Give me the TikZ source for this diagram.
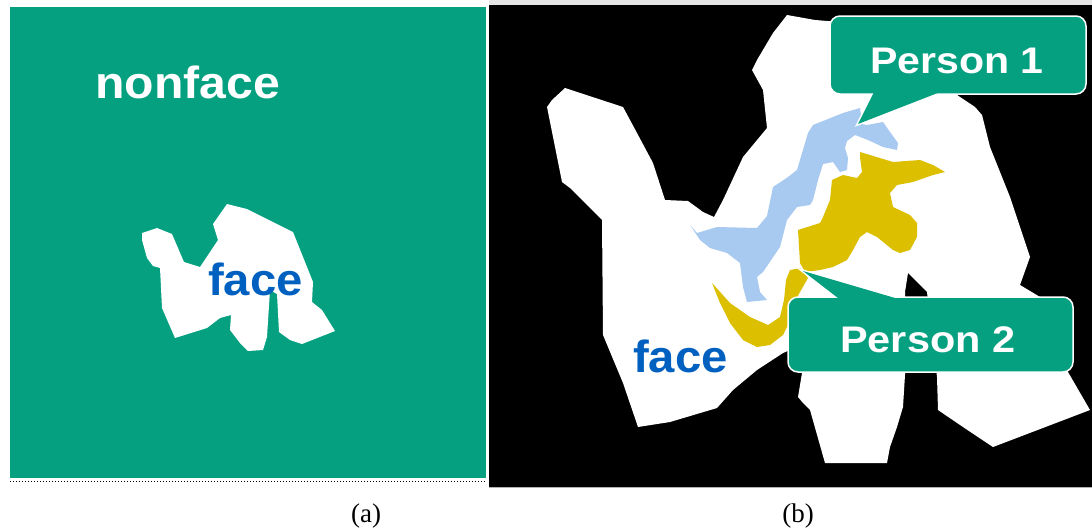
\documentclass[tikz,border=0pt]{standalone}
\usepackage{fontspec}
\setmainfont{Liberation Serif}
\newfontfamily\arialfont{Liberation Sans}
\definecolor{facegreen}{RGB}{4,160,128}
\definecolor{faceblue}{RGB}{0,96,192}
\definecolor{lightblue}{RGB}{168,202,240}
\definecolor{gold}{RGB}{220,192,0}
\tikzset{
  bigtext/.style={font=\arialfont\bfseries\fontsize{45}{54}\selectfont, inner sep=0pt, anchor=base west},
  facetext/.style={bigtext, text=faceblue},
  calloutbox/.style={draw=white, line width=1.5pt, fill=facegreen, rounded corners=10pt, rectangle, inner sep=0pt},
  tailedge/.style={draw=white, line width=3pt, line join=miter},
  calltext/.style={font=\arialfont\bfseries\fontsize{37}{44}\selectfont, text=white, inner sep=0pt, anchor=base west},
  captext/.style={font=\fontsize{27}{32}\selectfont, anchor=base, inner sep=0pt},
  region/.style={draw=none}
}
\begin{document}
\begin{tikzpicture}[x=1pt,y=-1pt]
\useasboundingbox (0,0) rectangle (1092,531);
\fill[white] (0,0) rectangle (1092,531);

% ---------- panel (a) ----------
\fill[facegreen] (10,7) rectangle (486,478);
\draw[black, dotted, line width=1pt] (10,481) -- (486,481);
\fill[white, region] (142,233) -- (157,228) -- (172,234) -- (184,262) -- (200,267) -- (218,240)
  -- (213,224) -- (227,204) -- (247,209) -- (293,232) -- (313,282) -- (312,302) -- (322,310)
  -- (335,331) -- (302,344) -- (290,340) -- (279,332) -- (277,294) -- (270,290) -- (267,337)
  -- (263,350) -- (248,351) -- (240,343) -- (230,330) -- (231,315) -- (220,318) -- (207,328)
  -- (175,338) -- (162,308) -- (160,268) -- (153,266) -- (147,258) -- (142,240) -- cycle;
\node[bigtext, text=white, xscale=1.07] (nonface) at (95,98) {nonface};
\node[facetext, xscale=1.05] (facea) at (208,295) {face};
\node[captext] (capa) at (366,522) {(a)};

% ---------- panel (b) ----------
\fill[black!10] (489,0) rectangle (1092,5);
\fill[black] (489,5) rectangle (1092,487);
\fill[black!30] (489,487) rectangle (1092,488);
% white face region
\fill[white, region] (547,107) -- (552,100) -- (565,88) -- (623,107) -- (637,133) -- (653,163)
  -- (665,200) -- (688,201) -- (703,212) -- (714,217) -- (723,200) -- (743,157) -- (767,128)
  -- (763,90) -- (752,70) -- (757,60) -- (773,33) -- (787,15) -- (815,20) -- (840,22)
  -- (950,90) -- (960,97) -- (975,107) -- (982,115) -- (990,147) -- (1010,197) -- (1030,257)
  -- (1020,285) -- (1040,297) -- (1068,372) -- (1090,410) -- (993,447) -- (963,427) -- (938,410)
  -- (937,377) -- (927,292) -- (908,273) -- (905,292) -- (905,375) -- (903,407) -- (897,427)
  -- (890,447) -- (887,463) -- (825,463) -- (810,410) -- (803,403) -- (798,397) -- (802,373)
  -- (790,350) -- (783,353) -- (757,370) -- (733,390) -- (717,408) -- (670,422) -- (638,427)
  -- (623,383) -- (603,335) -- (602,220) -- (570,188) -- (562,182) -- cycle;
% person 1 (light blue)
\fill[lightblue, region] (690,225) -- (697,233) -- (717,227) -- (757,228) -- (767,216) -- (773,187)
  -- (788,177) -- (797,170) -- (808,133) -- (813,125) -- (833,117) -- (843,113) -- (860,108)
  -- (862,124) -- (867,125) -- (883,122) -- (890,132) -- (898,143) -- (897,150) -- (883,147)
  -- (868,140) -- (855,135) -- (847,141) -- (845,148) -- (848,158) -- (847,170) -- (840,172)
  -- (833,162) -- (823,164) -- (818,180) -- (813,200) -- (810,205) -- (797,207) -- (787,220)
  -- (780,247) -- (763,272) -- (757,277) -- (760,292) -- (767,300) -- (747,302) -- (743,287)
  -- (740,263) -- (727,253) -- (710,248) -- (700,240) -- cycle;
% person 2 (gold)
\fill[gold, region] (860,152) -- (870,155) -- (893,162) -- (920,160) -- (933,165) -- (945,172)
  -- (933,175) -- (913,182) -- (897,185) -- (890,193) -- (893,207) -- (910,215) -- (917,223)
  -- (917,237) -- (910,250) -- (900,253) -- (893,250) -- (877,237) -- (867,232) -- (860,237)
  -- (853,250) -- (847,260) -- (833,267) -- (820,270) -- (805,272) -- (800,263) -- (798,230)
  -- (820,223) -- (823,217) -- (830,200) -- (832,180) -- (843,175) -- (857,178) -- (862,172)
  -- (860,157) -- cycle;
\fill[gold, region] (712,283) -- (730,303) -- (750,317) -- (768,325) -- (780,317) -- (784,300)
  -- (786,280) -- (790,270) -- (800,268) -- (808,278) -- (800,292) -- (793,305) -- (788,325)
  -- (783,335) -- (770,345) -- (757,347) -- (743,340) -- (730,323) -- (720,303) -- cycle;

\node[facetext, xscale=1.05] (faceb) at (633,372) {face};

% callout 1
\coordinate (tip1) at (858,124);
\coordinate (b1l) at (880,80);
\coordinate (b1r) at (971,80);
\draw[tailedge] (b1l) -- (tip1) -- (b1r);
\node[calloutbox, minimum width=256pt, minimum height=78pt] (p1box) at (958,55) {};
\fill[facegreen] (b1l) -- (tip1) -- (b1r) -- cycle;
\node[calltext, xscale=1.11] (p1) at (870,73) {Person 1};

% callout 2
\coordinate (tip2) at (803,271);
\coordinate (b2l) at (860,315);
\coordinate (b2r) at (953,315);
\draw[tailedge] (b2l) -- (tip2) -- (b2r);
\node[calloutbox, minimum width=285pt, minimum height=75pt] (p2box) at (930.5,334.5) {};
\fill[facegreen] (b2l) -- (tip2) -- (b2r) -- cycle;
\node[calltext, xscale=1.12] (p2) at (840,352) {Person 2};

\node[captext] (capb) at (798,522) {(b)};
\end{tikzpicture}
\end{document}
